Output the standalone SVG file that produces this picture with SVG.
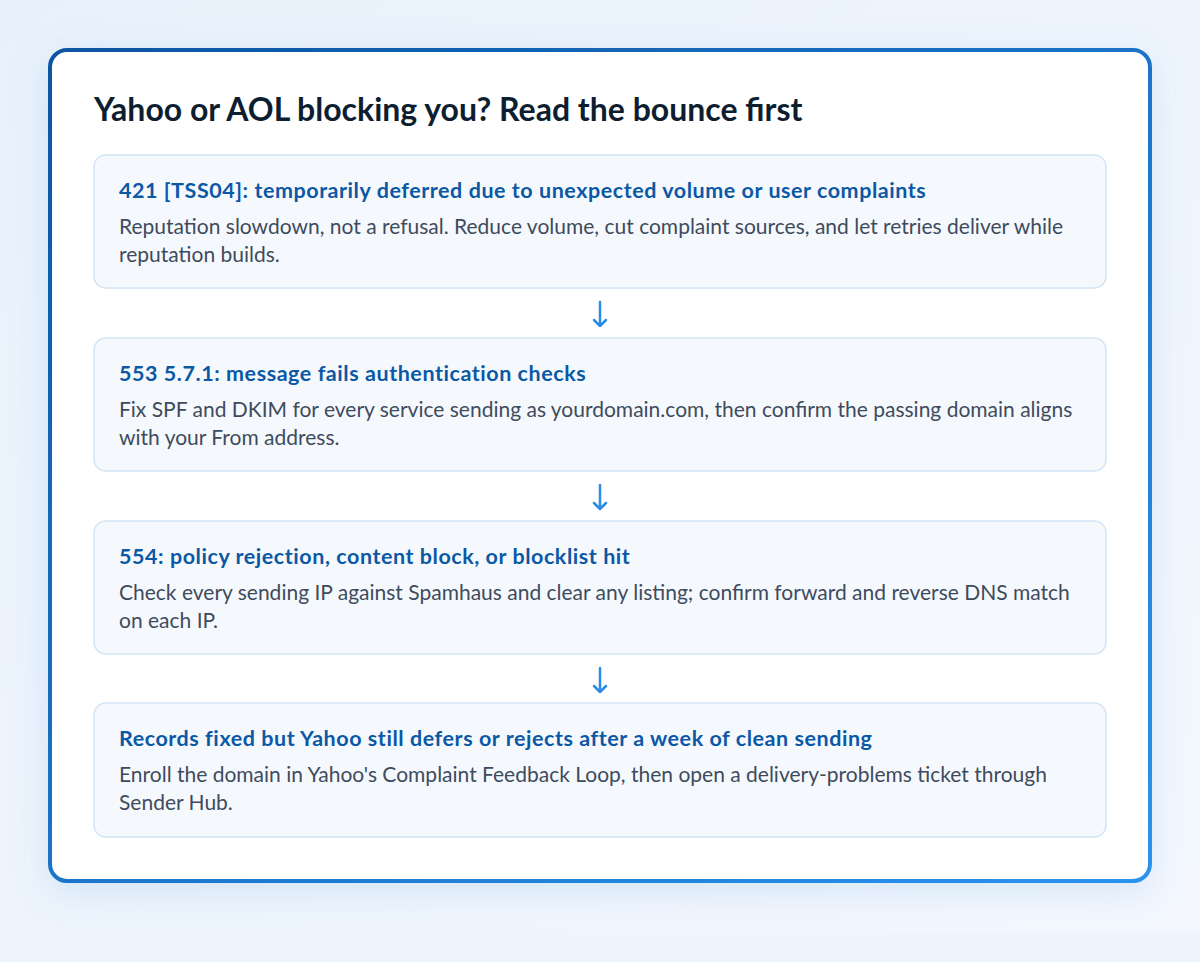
<svg xmlns="http://www.w3.org/2000/svg" width="1200" height="962" viewBox="0 0 1200 962">
  <defs>
    <linearGradient id="bg" x1="0" y1="0" x2="1" y2="1">
      <stop offset="0" stop-color="#e8f1fb"/>
      <stop offset="1" stop-color="#f4f8fe"/>
    </linearGradient>
    <linearGradient id="frame" x1="0" y1="0" x2="1" y2="1">
      <stop offset="0" stop-color="#0a55a3"/>
      <stop offset="1" stop-color="#2b93ee"/>
    </linearGradient>
    <filter id="glow" x="-10%" y="-10%" width="120%" height="125%">
      <feDropShadow dx="0" dy="10" stdDeviation="18" flood-color="#5b9be0" flood-opacity="0.18"/>
    </filter>
  </defs>
  <style>
    .title { font-family: Lato, "Noto Sans", sans-serif; font-weight: 700; font-size: 32px; fill: #0e1e31; }
    .card { fill: #f5f9fe; stroke: #d3e3f4; stroke-width: 1.5; }
    .head { font-family: Lato, "Noto Sans", sans-serif; font-weight: 700; font-size: 21.5px; letter-spacing: 0.55px; fill: #0b58a5; }
    .body { font-family: Lato, "Noto Sans", sans-serif; font-weight: 400; font-size: 21px; fill: #3e4b5d; }
    .conn { fill: none; stroke: #2b8ce6; stroke-width: 2.5; stroke-linecap: round; stroke-linejoin: round; }
  </style>
  <rect x="0" y="0" width="1200" height="962" fill="url(#bg)"/>
  <rect x="0" y="932" width="1200" height="30" fill="#eef5fd"/>

  <g id="frame-box">
    <rect x="50" y="50" width="1100" height="831" rx="17" fill="#ffffff" stroke="url(#frame)" stroke-width="4" filter="url(#glow)"/>
    <text class="title" x="94" y="121">Yahoo or AOL blocking you? Read the bounce first</text>
  </g>

  <g id="connectors">
    <path class="conn" d="M600 302 V326 M594 320 L600 326 L606 320"/>
    <path class="conn" d="M600 485 V509 M594 503 L600 509 L606 503"/>
    <path class="conn" d="M600 668 V692 M594 686 L600 692 L606 686"/>
  </g>

  <g id="node-421">
    <rect class="card" x="94" y="155" width="1012" height="133" rx="12"/>
    <text class="head" x="119" y="198">421 [TSS04]: temporarily deferred due to unexpected volume or user complaints</text>
    <text class="body" x="119" y="234">Reputation slowdown, not a refusal. Reduce volume, cut complaint sources, and let retries deliver while</text>
    <text class="body" x="119" y="262">reputation builds.</text>
  </g>

  <g id="node-553">
    <rect class="card" x="94" y="338" width="1012" height="133" rx="12"/>
    <text class="head" x="119" y="381">553 5.7.1: message fails authentication checks</text>
    <text class="body" x="119" y="417">Fix SPF and DKIM for every service sending as yourdomain.com, then confirm the passing domain aligns</text>
    <text class="body" x="119" y="445">with your From address.</text>
  </g>

  <g id="node-554">
    <rect class="card" x="94" y="521" width="1012" height="133" rx="12"/>
    <text class="head" x="119" y="564">554: policy rejection, content block, or blocklist hit</text>
    <text class="body" x="119" y="600">Check every sending IP against Spamhaus and clear any listing; confirm forward and reverse DNS match</text>
    <text class="body" x="119" y="628">on each IP.</text>
  </g>

  <g id="node-followup">
    <rect class="card" x="94" y="703" width="1012" height="134" rx="12"/>
    <text class="head" x="119" y="746">Records fixed but Yahoo still defers or rejects after a week of clean sending</text>
    <text class="body" x="119" y="782">Enroll the domain in Yahoo's Complaint Feedback Loop, then open a delivery-problems ticket through</text>
    <text class="body" x="119" y="810">Sender Hub.</text>
  </g>
</svg>
